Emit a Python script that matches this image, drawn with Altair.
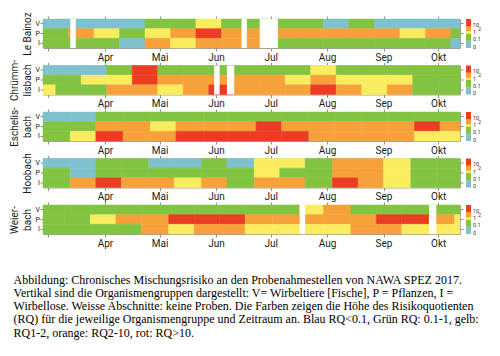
import altair as alt
import pandas as pd

YEAR = 2017
FONT = "Liberation Sans Narrow, Roboto, sans-serif"
SERIF = "Liberation Serif"

groups = ["V", "P", "I"]
cat_codes = ["B", "G", "Y", "O", "R"]
cat_names = ["RQ<0.1", "RQ 0.1-1", "RQ 1-2", "RQ 2-10", "RQ>10"]
cat_colors = ["#7fc1cc", "#82c341", "#f9ed5f", "#f7a13a", "#eb3c24"]

month_labels = ["", "", "", "Apr", "Mai", "Jun", "Jul", "Aug", "Sep", "Okt", "", ""]
month_ticks = [3, 4, 5, 6, 7, 8, 9, 10]
x_start = "02-26"
x_end = "10-13"

legend_low = [0.01, 0.1, 1, 2, 10]
legend_high = [0.1, 1, 2, 10, 100]
legend_values = [10, 1, 0.1, 0.01]
legend_texts = ["10", "1", "0.1", "0"]
legend_raised_values = [2]
legend_raised_texts = ["2"]

# ---- Le Bainoz ----
bainoz_title = ["Le Bainoz"]
bainoz_breaks = ["02-26", "03-12", "03-26", "04-09", "04-23", "05-07", "05-21", "06-04", "06-18",
                 "07-02", "07-16", "07-30", "08-13", "08-27", "09-10", "09-24", "10-08", "10-13"]
bainoz_V = ["B", "B", "B", "B", "G", "G", "Y", "G", "G", "G", "G", "B", "G", "B", "B", "B", "B"]
bainoz_P = ["G", "O", "Y", "G", "Y", "O", "R", "O", "O", "O", "O", "O", "O", "O", "Y", "O", "G"]
bainoz_I = ["G", "G", "G", "B", "O", "Y", "O", "O", "O", "G", "G", "G", "G", "G", "G", "G", "B"]
bainoz_gap_start = ["03-13", "06-15", "06-25"]
bainoz_gap_end = ["03-16", "06-18", "07-05"]

# ---- Chruemmlisbach ----
chruemm_title = ["Chrümm-", "lisbach"]
chruemm_breaks = ["02-26", "03-05", "03-19", "04-02", "04-16", "04-30", "05-14", "05-28", "06-11",
                  "06-25", "07-09", "07-23", "08-06", "08-20", "09-03", "09-17", "10-01", "10-13"]
chruemm_V = ["B", "B", "B", "G", "R", "G", "G", "G", "G", "G", "G", "Y", "G", "G", "G", "G", "G"]
chruemm_P = ["G", "G", "Y", "Y", "R", "O", "O", "O", "O", "O", "Y", "O", "Y", "Y", "Y", "G", "G"]
chruemm_I = ["Y", "G", "G", "O", "O", "Y", "O", "R", "O", "O", "O", "R", "O", "Y", "O", "G", "G"]
chruemm_gap_start = ["05-31", "06-07"]
chruemm_gap_end = ["06-03", "06-11"]

# ---- Eschelisbach ----
eschel_title = ["Eschelis-", "bach"]
eschel_breaks = ["02-26", "03-13", "03-27", "04-11", "04-26", "05-10", "05-25", "06-08", "06-23",
                 "07-07", "07-22", "08-05", "08-20", "09-03", "09-18", "10-02", "10-13"]
eschel_V = ["B", "B", "G", "G", "G", "G", "G", "G", "G", "G", "G", "G", "G", "G", "G", "G"]
eschel_P = ["G", "G", "O", "O", "Y", "O", "O", "O", "R", "O", "O", "O", "O", "O", "R", "O"]
eschel_I = ["G", "Y", "R", "O", "O", "R", "R", "R", "R", "R", "O", "O", "O", "O", "Y", "Y"]
eschel_gap_start = []
eschel_gap_end = []

# ---- Hoobach ----
hoo_title = ["Hoobach"]
hoo_breaks = ["02-26", "03-13", "03-27", "04-10", "04-25", "05-09", "05-24", "06-07", "06-22",
              "07-06", "07-20", "08-04", "08-18", "09-01", "09-16", "09-30", "10-13"]
hoo_V = ["B", "B", "G", "G", "B", "B", "G", "B", "Y", "Y", "G", "O", "O", "Y", "G", "G"]
hoo_P = ["G", "B", "G", "G", "G", "G", "G", "G", "Y", "G", "G", "O", "O", "Y", "G", "G"]
hoo_I = ["G", "O", "R", "O", "O", "Y", "O", "G", "O", "O", "G", "R", "O", "Y", "G", "G"]
hoo_gap_start = []
hoo_gap_end = []

# ---- Weierbach ----
weier_title = ["Weier-", "bach"]
weier_breaks = ["02-26", "03-10", "03-24", "04-07", "04-21", "05-06", "05-20", "06-03", "06-17",
                "07-02", "07-17", "07-30", "08-14", "08-28", "09-11", "09-26", "10-10", "10-13"]
weier_V = ["G", "G", "G", "G", "G", "G", "G", "G", "G", "G", "Y", "O", "G", "G", "G", "G", "G"]
weier_P = ["G", "G", "Y", "O", "O", "R", "R", "R", "O", "O", "O", "O", "O", "R", "R", "O", "Y"]
weier_I = ["G", "G", "G", "G", "O", "Y", "O", "O", "Y", "Y", "Y", "Y", "O", "O", "Y", "Y", "Y"]
weier_gap_start = ["07-17", "09-26"]
weier_gap_end = ["07-20", "09-30"]

caption_lines = [
    "Abbildung: Chronisches Mischungsrisiko an den Probenahmestellen von NAWA SPEZ 2017.",
    "Vertikal sind die Organismengruppen dargestellt: V= Wirbeltiere [Fische], P = Pflanzen, I =",
    "Wirbellose. Weisse Abschnitte: keine Proben. Die Farben zeigen die Höhe des Risikoquotienten",
    "(RQ) für die jeweilige Organismengruppe und Zeitraum an. Blau RQ<0.1, Grün RQ: 0.1-1, gelb:",
    "RQ1-2, orange: RQ2-10, rot: RQ>10.",
]

sites = [
    (bainoz_title, bainoz_breaks, bainoz_V, bainoz_P, bainoz_I, bainoz_gap_start, bainoz_gap_end),
    (chruemm_title, chruemm_breaks, chruemm_V, chruemm_P, chruemm_I, chruemm_gap_start, chruemm_gap_end),
    (eschel_title, eschel_breaks, eschel_V, eschel_P, eschel_I, eschel_gap_start, eschel_gap_end),
    (hoo_title, hoo_breaks, hoo_V, hoo_P, hoo_I, hoo_gap_start, hoo_gap_end),
    (weier_title, weier_breaks, weier_V, weier_P, weier_I, weier_gap_start, weier_gap_end),
]

W = 417
H = 29


def iso(md):
    return f"{YEAR}-{md}"


def dt(md):
    m, d = md.split("-")
    return alt.DateTime(year=YEAR, month=int(m), date=int(d), utc=True)


code_to_name = dict(zip(cat_codes, cat_names))
month_values = [alt.DateTime(year=YEAR, month=m, date=1, utc=True) for m in month_ticks]
label_expr = "[" + ",".join(f"'{m}'" for m in month_labels) + "][utcmonth(datum.value)]"

x_scale = alt.Scale(type="utc", domain=[dt(x_start), dt(x_end)])
y_scale = alt.Scale(domain=groups, paddingInner=0, paddingOuter=0)
color_scale = alt.Scale(domain=cat_names, range=cat_colors)
tick_col = "#8f8f8f"


def heat_panel(title, breaks, v, p, i, gs, ge):
    rows = []
    for g, codes in zip(groups, [v, p, i]):
        assert len(codes) == len(breaks) - 1
        for k, c in enumerate(codes):
            rows.append({"group": g, "start": iso(breaks[k]), "end": iso(breaks[k + 1]),
                         "cat": code_to_name[c]})
    cells_df = pd.DataFrame(rows)
    base = alt.Chart(cells_df)
    cells = base.mark_rect(strokeWidth=0.5).encode(
        x=alt.X("start:T", scale=x_scale,
                axis=alt.Axis(orient="bottom", values=month_values, labelExpr=label_expr,
                              title=None, grid=False, domain=False, tickSize=3,
                              tickColor=tick_col, labelFontSize=10, labelFont=FONT,
                              labelColor="#1a1a1a", labelPadding=1, labelOverlap=False,
                              labelFlush=False)),
        x2="end:T",
        y=alt.Y("group:N", scale=y_scale,
                axis=alt.Axis(orient="left", title=title, titleFont=FONT, titleFontSize=10,
                              titleFontWeight="normal", titleColor="#1a1a1a",
                              titleLineHeight=13.5, titlePadding=2.5, labelFontSize=7,
                              labelFont=FONT, labelColor="#1a1a1a", labelPadding=0.5,
                              tickSize=3, tickColor=tick_col, domain=False, grid=False)),
        color=alt.Color("cat:N", scale=color_scale, legend=None),
        stroke=alt.Stroke("cat:N", scale=color_scale, legend=None),
    )
    frame = base.mark_rect(opacity=0).encode(
        x=alt.X("start:T", scale=x_scale,
                axis=alt.Axis(orient="top", values=month_values, labels=False, title=None,
                              grid=False, domain=False, tickSize=3, tickColor=tick_col)),
        x2="end:T",
        y=alt.Y("group:N", scale=y_scale,
                axis=alt.Axis(orient="right", labels=False, title=None, grid=False,
                              domain=False, tickSize=3, tickColor=tick_col)),
    )
    layers = [cells]
    if gs:
        gaps_df = pd.DataFrame({"start": [iso(s) for s in gs], "end": [iso(e) for e in ge]})
        gaps = alt.Chart(gaps_df).mark_rect(color="white").encode(
            x=alt.X("start:T", scale=x_scale, axis=None),
            x2="end:T",
            y=alt.value(0),
            y2=alt.value(H),
        )
        layers.append(gaps)
    layers.append(frame)
    return alt.layer(*layers).resolve_axis(x="independent", y="independent").properties(
        width=W, height=H)


def legend_panel():
    leg_df = pd.DataFrame({"lo": legend_low, "hi": legend_high, "cat": cat_names})
    lab_df = pd.DataFrame({"v": legend_values, "t": legend_texts})
    lab2_df = pd.DataFrame({"v": legend_raised_values, "t": legend_raised_texts})
    ly = alt.Scale(type="log", domain=[0.01, 100])
    bar = alt.Chart(leg_df).mark_rect().encode(
        x=alt.value(0), x2=alt.value(5),
        y=alt.Y("lo:Q", scale=ly, axis=None), y2="hi:Q",
        color=alt.Color("cat:N", scale=color_scale, legend=None),
    )
    labs = alt.Chart(lab_df).mark_text(align="left", baseline="middle", fontSize=5.5,
                                       font=FONT, dy=-1.5, color="#333").encode(
        x=alt.value(7), y=alt.Y("v:Q", scale=ly, axis=None), text="t:N")
    labs2 = alt.Chart(lab2_df).mark_text(align="left", baseline="middle", fontSize=5.5,
                                         font=FONT, dy=-2.5, color="#333").encode(
        x=alt.value(12), y=alt.Y("v:Q", scale=ly, axis=None), text="t:N")
    return alt.layer(bar, labs, labs2).properties(
        width=5, height=H, view=alt.ViewBackground(stroke="transparent"))


panels = []
for s in sites:
    panels.append(heat_panel(*s))
    panels.append(legend_panel())

chart = alt.concat(
    *panels, columns=2, spacing={"row": 17.5, "column": 6}, bounds="flush",
    title=alt.TitleParams(text=caption_lines, orient="bottom", anchor="start", font=SERIF,
                          fontSize=12, fontWeight="normal", lineHeight=13.3, offset=26,
                          dx=5, color="black"),
).properties(
    padding={"left": 0, "top": 3, "right": 5, "bottom": 3}
).configure_view(stroke="#a0a0a0", strokeWidth=1)

chart.save("out.html", embed_options={"renderer": "svg", "actions": False})
